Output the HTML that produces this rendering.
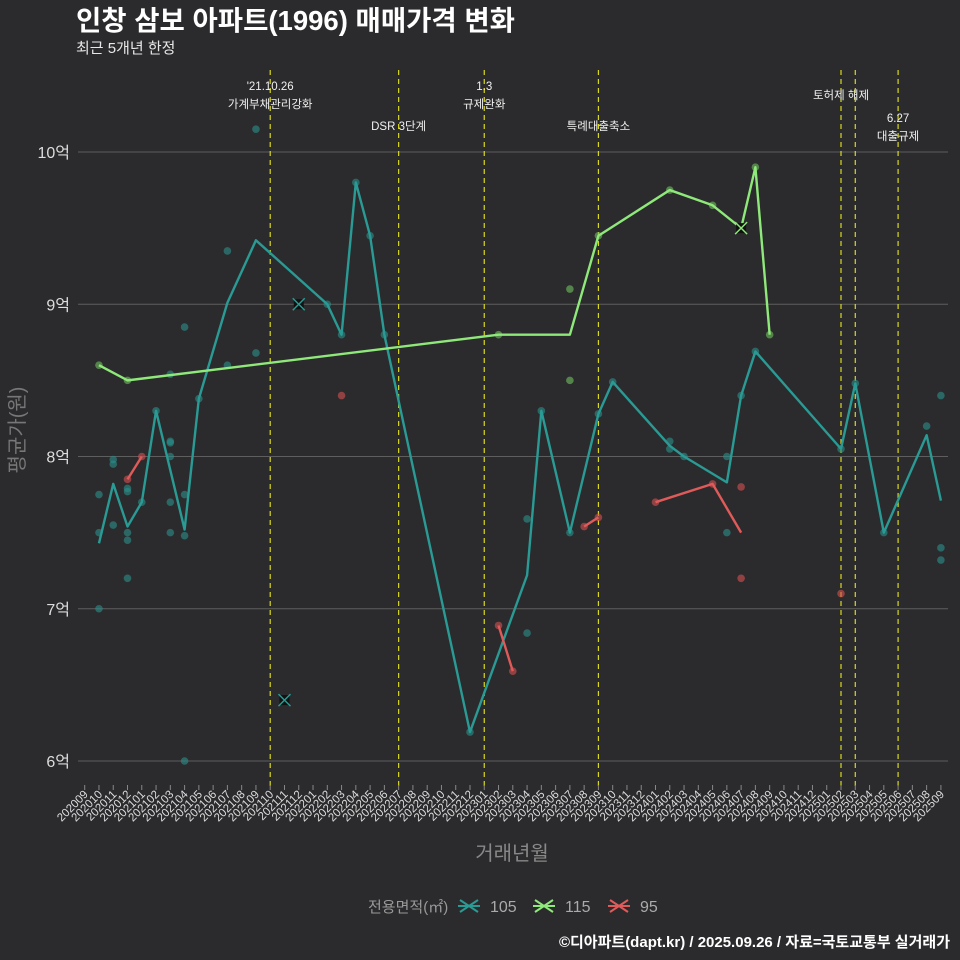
<!DOCTYPE html>
<html><head><meta charset="utf-8">
<style>
body{margin:0;background:#2b2b2d;}
svg{display:block;font-family:"Liberation Sans","Noto Sans CJK KR",sans-serif;}
</style></head>
<body>
<svg id="chart" width="960" height="960" viewBox="0 0 960 960">
<rect width="960" height="960" fill="#2b2b2d"/>
<text x="76" y="30" font-size="27.5" font-weight="bold" fill="#ffffff">인창 삼보 아파트(1996) 매매가격 변화</text>
<text x="76" y="53" font-size="15" fill="#e8e8e8">최근 5개년 한정</text>
<g id="grid"></g><g id="vlines"></g><g id="marks"></g><g id="axes"></g>
<text transform="translate(24,430) rotate(-90)" text-anchor="middle" font-size="20" fill="#777">평균가(원)</text>
<text x="512" y="860" text-anchor="middle" font-size="20" fill="#888">거래년월</text>
<g>
<text x="368" y="912" font-size="15" fill="#999">전용면적(㎡)</text>
<g><path d="M460 900l18 12M460 912l18-12M458 906h22" stroke="#2a9a94" stroke-width="2"/><text x="490" y="912" font-size="16" fill="#aaa">105</text></g>
<g><path d="M535 900l18 12M535 912l18-12M533 906h22" stroke="#8fe87a" stroke-width="2"/><text x="565" y="912" font-size="16" fill="#aaa">115</text></g>
<g><path d="M610 900l18 12M610 912l18-12M608 906h22" stroke="#e05a5a" stroke-width="2"/><text x="640" y="912" font-size="16" fill="#aaa">95</text></g>
</g>
<text x="950" y="947" text-anchor="end" font-size="15" font-weight="bold" fill="#ffffff">©디아파트(dapt.kr) / 2025.09.26 / 자료=국토교통부 실거래가</text>
</svg>
<script>
const months = [];
for (let i = 0; i <= 60; i++) { const t = 2020*12 + 8 + i; months.push(String(Math.floor(t/12)) + String(t%12+1).padStart(2,'0')); }
const yTicks = [6, 7, 8, 9, 10];
const yTickLabels = ['6억','7억','8억','9억','10억'];
const line105Idx = [1,2,3,4,5,6,7,8,10,12,17,18,19,20,21,27,31,32,34,36,37,41,42,45,46,47,53,54,56,59,60];
const line105Val = [7.43,7.82,7.54,7.70,8.30,7.91,7.52,8.38,9.01,9.42,9.0,8.80,9.80,9.45,8.80,6.19,7.22,8.30,7.50,8.28,8.49,8.07,8.0,7.83,8.40,8.69,8.05,8.48,7.50,8.14,7.71];
const line115Idx = [1,3,29,34,36,41,44,46,47,48];
const line115Val = [8.60,8.50,8.80,8.80,9.45,9.75,9.65,9.50,9.90,8.80];
const line95aIdx = [3,4]; const line95aVal = [7.85,8.00];
const line95bIdx = [29,30]; const line95bVal = [6.89,6.59];
const line95cIdx = [35,36]; const line95cVal = [7.54,7.60];
const line95dIdx = [40,44,46]; const line95dVal = [7.70,7.82,7.50];
const dots105Idx = [1,1,1,2,2,2,3,3,3,3,3,4,5,6,6,6,6,6,6,7,7,7,7,8,10,10,12,12,17,18,19,20,21,27,31,31,32,34,36,37,41,41,42,45,45,46,47,53,54,56,59,60,60,60];
const dots105Val = [7.75,7.50,7.00,7.98,7.95,7.55,7.79,7.77,7.50,7.45,7.20,7.70,8.30,8.10,8.09,8.00,7.70,7.50,8.54,7.75,7.48,6.00,8.85,8.38,9.35,8.60,10.15,8.68,9.00,8.80,9.80,9.45,8.80,6.19,7.59,6.84,8.30,7.50,8.28,8.49,8.10,8.05,8.00,8.00,7.50,8.40,8.69,8.05,8.48,7.50,8.20,8.40,7.40,7.32];
const dots115Idx = [1,3,29,34,34,36,41,44,47,48];
const dots115Val = [8.60,8.50,8.80,9.10,8.50,9.45,9.75,9.65,9.90,8.80];
const dots95Idx = [3,4,18,29,30,35,36,40,44,46,46,53];
const dots95Val = [7.85,8.00,8.40,6.89,6.59,7.54,7.60,7.70,7.82,7.80,7.20,7.10];
const cross105Idx = [14,15]; const cross105Val = [6.40,9.00];
const cross115Idx = [46]; const cross115Val = [9.50];
const eventIdx = [13,22,28,36,53,54,57];
const eventLabels = [["'21.10.26","가계부채관리강화"],["DSR 3단계"],["1.3","규제완화"],["특례대출축소"],["토허제 해제"],[],["6.27","대출규제"]];
const eventLabelY = [90,130,90,130,99,0,122];

const X = i => 84.7 + 14.27*i;
const Y = v => 761 - (v-6)*152.25;
const NS='http://www.w3.org/2000/svg';
function mk(tag, attrs, parent){const e=document.createElementNS(NS,tag);for(const k in attrs)e.setAttribute(k,attrs[k]);parent.appendChild(e);return e;}
const grid=document.getElementById('grid'),vl=document.getElementById('vlines'),mk_=document.getElementById('marks'),ax=document.getElementById('axes');
yTicks.forEach((v,k)=>{
  const l=mk('line',{x1:78,x2:948,y1:Y(v),y2:Y(v),stroke:'#5e5e5e','stroke-width':1},grid);
  
  
  const t=mk('text',{x:70,y:Y(v)+6,'text-anchor':'end','font-size':16,fill:'#dddddd'},ax);
  t.textContent=yTickLabels[k];
  
  
});
months.forEach((m,i)=>{
  const tk=mk('line',{x1:X(i),x2:X(i),y1:785,y2:790,stroke:'#888','stroke-width':1},ax);
  
  
  const t=mk('text',{transform:`translate(${X(i)+4},795) rotate(-45)`,'text-anchor':'end','font-size':11.5,fill:'#dddddd'},ax);
  t.textContent=m;
  
  
});
eventIdx.forEach((i,k)=>{
  const l=mk('line',{x1:X(i),x2:X(i),y1:70,y2:790,stroke:'#d8d820','stroke-width':1.2,'stroke-dasharray':'5,4'},vl);
  
  
  eventLabels[k].forEach((s,j)=>{
    const t=mk('text',{x:X(i),y:eventLabelY[k]+j*18,'text-anchor':'middle','font-size':11.5,fill:'#f0f0f0'},vl);
    t.textContent=s;
    
    
  });
});
function drawDots(idx,val,color,name){idx.forEach((i,k)=>{
  const c=mk('circle',{cx:X(i),cy:Y(val[k]),r:3.8,fill:color,'fill-opacity':0.6},mk_);
  
  
});}
function drawLine(idx,val,color,name){
  const p=mk('polyline',{points:idx.map((i,k)=>X(i)+','+Y(val[k])).join(' '),fill:'none',stroke:color,'stroke-width':2.4,'stroke-linejoin':'round'},mk_);
  
  
}
function drawCross(idx,val,color,name){idx.forEach((i,k)=>{
  const x=X(i),y=Y(val[k]);
  const b=mk('rect',{x:x-5,y:y-5,width:10,height:10,fill:'#111'},mk_);
  
  
  const p=mk('path',{d:`M${x-6} ${y-6}L${x+6} ${y+6}M${x-6} ${y+6}L${x+6} ${y-6}`,stroke:color,'stroke-width':1.5},mk_);
  
  
});}
drawDots(dots105Idx,dots105Val,'#2a8f8a','point-105');
drawDots(dots115Idx,dots115Val,'#6fbf5e','point-115');
drawDots(dots95Idx,dots95Val,'#d55050','point-95');
drawLine(line105Idx,line105Val,'#2a9a94','line-105');
drawLine(line115Idx,line115Val,'#8fe87a','line-115');
drawLine(line95aIdx,line95aVal,'#e05a5a','line-95');
drawLine(line95bIdx,line95bVal,'#e05a5a','line-95');
drawLine(line95cIdx,line95cVal,'#e05a5a','line-95');
drawLine(line95dIdx,line95dVal,'#e05a5a','line-95');
drawCross(cross105Idx,cross105Val,'#2a9a94','cross-105');
drawCross(cross115Idx,cross115Val,'#8fe87a','cross-115');
</script>
</body></html>
